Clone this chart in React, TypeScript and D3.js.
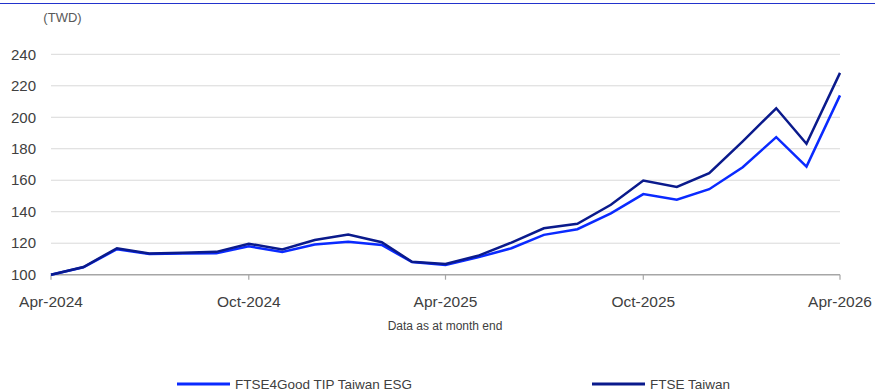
import React from "react";
import * as d3 from "d3";

const months: string[] = [
  "2024-04","2024-05","2024-06","2024-07","2024-08","2024-09","2024-10","2024-11","2024-12",
  "2025-01","2025-02","2025-03","2025-04","2025-05","2025-06","2025-07","2025-08","2025-09",
  "2025-10","2025-11","2025-12","2026-01","2026-02","2026-03","2026-04",
];
const esgValues: number[] = [
  100, 104.7, 116.2, 113.2, 113.5, 113.6, 118, 114.5, 119.2, 121, 118.9, 108, 106.2,
  111, 116.8, 125.3, 128.9, 139, 151.2, 147.6, 154.3, 168.3, 187.4, 168.7, 213.9,
];
const ftseValues: number[] = [
  100, 104.9, 116.8, 113.4, 114, 114.5, 119.7, 116, 122, 125.5, 120.6, 108.2, 106.8,
  112, 120.4, 129.5, 132.3, 144.4, 159.8, 155.8, 164.5, 184.7, 205.7, 183.2, 228.2,
];
const yTicks: number[] = [100, 120, 140, 160, 180, 200, 220, 240];
const xTickMonths: string[] = ["2024-04", "2024-10", "2025-04", "2025-10", "2026-04"];
const xTickLabels: string[] = ["Apr-2024", "Oct-2024", "Apr-2025", "Oct-2025", "Apr-2026"];
const seriesNames: string[] = ["FTSE4Good TIP Taiwan ESG", "FTSE Taiwan"];
const seriesColors: string[] = ["#0a2aff", "#0a1a8c"];

const W = 875;
const H = 392;
const FONT = "'Liberation Sans', Arial, sans-serif";

export default function App() {
  const parse = d3.timeParse("%Y-%m");
  const dates = months.map((m) => parse(m) as Date);
  const x = d3
    .scaleTime()
    .domain([dates[0], dates[dates.length - 1]])
    .range([51, 840]);
  const y = d3.scaleLinear().domain([100, 240]).range([274.7, 54.3]);

  const line = d3
    .line<number>()
    .x((_, i) => x(dates[i]))
    .y((v) => y(v));

  const series = [esgValues, ftseValues];
  const legendX = [177, 592];

  return (
    <svg
      width={W}
      height={H}
      style={{ position: "absolute", left: 0, top: 0, display: "block" }}
      fontFamily={FONT}
    >
      <rect width={W} height={H} fill="#ffffff" />
      <line x1={0} x2={W} y1={3.5} y2={3.5} stroke="#2233cc" strokeWidth={1} />
      <text x={62.5} y={21.5} fontSize={13} fill="#595959" textAnchor="middle">
        (TWD)
      </text>
      {yTicks.map((t) => (
        <g key={t}>
          {t !== 100 && (
            <line x1={51} x2={840} y1={y(t)} y2={y(t)} stroke="#d9d9d9" strokeWidth={1} />
          )}
          <text
            x={36}
            y={y(t)}
            dy="0.35em"
            fontSize={15}
            fill="#404040"
            textAnchor="end"
          >
            {t}
          </text>
        </g>
      ))}
      <line x1={51} x2={840} y1={y(100)} y2={y(100)} stroke="#a6a6a6" strokeWidth={1.5} />
      {xTickMonths.map((m, i) => {
        const xx = x(parse(m) as Date);
        return (
          <g key={m}>
            <line x1={xx} x2={xx} y1={y(100)} y2={y(100) + 5} stroke="#a6a6a6" strokeWidth={1.2} />
            <text x={xx} y={307} fontSize={15.5} fill="#404040" textAnchor="middle">
              {xTickLabels[i]}
            </text>
          </g>
        );
      })}
      <text x={445} y={329.5} fontSize={12} fill="#404040" textAnchor="middle">
        Data as at month end
      </text>
      {series.map((s, i) => (
        <path
          key={i}
          d={line(s) || ""}
          fill="none"
          stroke={seriesColors[i]}
          strokeWidth={2.5}
          strokeLinejoin="miter"
        />
      ))}
      {seriesNames.map((n, i) => {
        const lx = legendX[i];
        return (
          <g key={n}>
            <line x1={lx} x2={lx + 53} y1={384} y2={384} stroke={seriesColors[i]} strokeWidth={3} />
            <text x={lx + 58} y={388.5} fontSize={13.5} fill="#404040">
              {n}
            </text>
          </g>
        );
      })}
    </svg>
  );
}
